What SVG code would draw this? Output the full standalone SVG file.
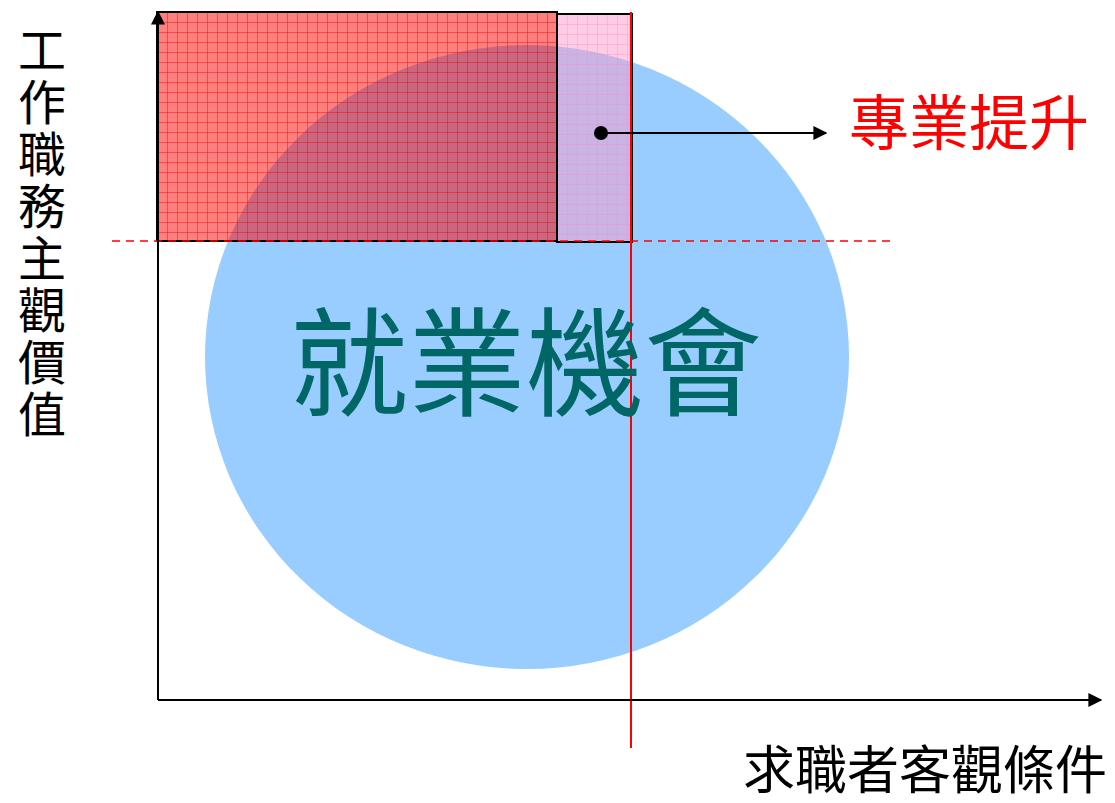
<svg xmlns="http://www.w3.org/2000/svg" width="1115" height="803" viewBox="0 0 1115 803">
<style>
.cjk{font-family:"Noto Sans CJK TC","Noto Sans CJK SC",sans-serif;}
.ax{stroke:#000;stroke-width:2;fill:none;}
</style>
<defs>
<marker id="ah" viewBox="0 0 10 10" refX="9" refY="5" markerWidth="14" markerHeight="14" markerUnits="userSpaceOnUse" orient="auto">
<path d="M0,0 L10,5 L0,10 z" fill="#000"/>
</marker>
<pattern id="gridR" x="157" y="12" width="10" height="10" patternUnits="userSpaceOnUse">
<path d="M0,0 H10 M0,0 V10" stroke="#FF0000" stroke-width="1" fill="none"/>
</pattern>
<pattern id="gridP" x="557" y="14" width="10" height="10" patternUnits="userSpaceOnUse">
<path d="M0,0 H10 M0,0 V10" stroke="#FF88BB" stroke-width="1" fill="none" opacity="0.7"/>
</pattern>
</defs>
<g id="circle">
<ellipse cx="527" cy="357" rx="322" ry="312" fill="#99CCFF"/>
</g>
<g id="redbox">
<rect x="157" y="12" width="400" height="229" fill="#FF0000" fill-opacity="0.5"/>
<rect x="157" y="12" width="400" height="229" fill="url(#gridR)" opacity="0.9"/>
<rect x="157" y="12" width="400" height="229" fill="none" stroke="#000" stroke-width="2"/>
</g>
<g id="pinkbox">
<rect x="557" y="14" width="75" height="228" fill="#FF99CC" fill-opacity="0.5"/>
<rect x="557" y="14" width="75" height="228" fill="url(#gridP)"/>
<rect x="557" y="14" width="75" height="228" fill="none" stroke="#000" stroke-width="2"/>
</g>
<g id="connectors">
<line x1="112" y1="241" x2="890" y2="241" stroke="#FF0000" stroke-width="1.5" stroke-dasharray="8,6"/>
<line x1="631" y1="12" x2="631" y2="748" stroke="#FF0000" stroke-width="2"/>
<line class="ax" x1="158" y1="700" x2="158" y2="12" marker-end="url(#ah)"/>
<line class="ax" x1="158" y1="700" x2="1101" y2="700" marker-end="url(#ah)"/>
<circle cx="601" cy="133" r="7" fill="#000"/>
<line class="ax" x1="601" y1="133" x2="826" y2="133" marker-end="url(#ah)"/>
</g>
<g id="label-main">
<text class="cjk" x="526" y="407" font-size="118" fill="#006666" text-anchor="middle">就業機會</text>
</g>
<g id="label-promo">
<text class="cjk" x="969" y="145" font-size="60" fill="#FF0000" text-anchor="middle">專業提升</text>
</g>
<g id="label-y">
<text class="cjk" x="42" y="26" font-size="48" fill="#000" style="writing-mode:vertical-rl" letter-spacing="4">工作職務主觀價值</text>
</g>
<g id="label-x">
<text class="cjk" x="925" y="789" font-size="52" fill="#000" text-anchor="middle">求職者客觀條件</text>
</g>
</svg>
